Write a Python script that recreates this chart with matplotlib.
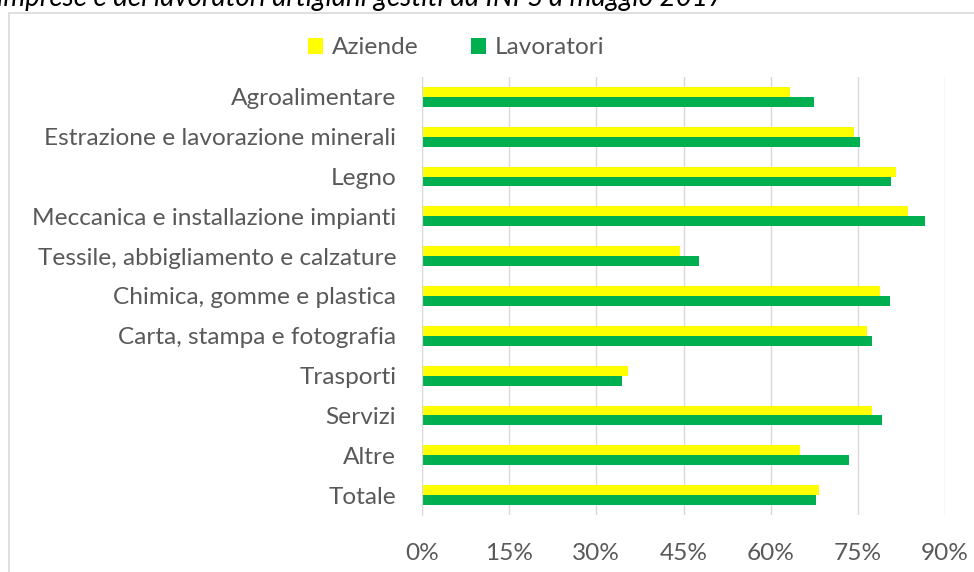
import matplotlib
matplotlib.use("Agg")
import matplotlib.pyplot as plt
from matplotlib.patches import Rectangle, Patch
from matplotlib.ticker import PercentFormatter

categories = ["Agroalimentare", "Estrazione e lavorazione minerali", "Legno",
              "Meccanica e installazione impianti",
              "Tessile, abbigliamento e calzature",
              "Chimica, gomme e plastica", "Carta, stampa e fotografia",
              "Trasporti", "Servizi", "Altre", "Totale"]
aziende = [63.3, 74.3, 81.6, 83.7, 44.4, 78.8, 76.6, 35.5, 77.4, 65.0, 68.3]
lavoratori = [67.5, 75.3, 80.7, 86.5, 47.7, 80.5, 77.4, 34.4, 79.1, 73.5, 67.8]
xticks = [0, 15, 30, 45, 60, 75, 90]
title = "imprese e dei lavoratori artigiani gestiti da INPS a maggio 2017"

YELLOW = "#ffff00"
GREEN = "#00b050"
GRID = "#d9d9d9"
TXT = "#595959"
FONT = "Lato"
FS = 17.6

W, H = 974, 572
fig = plt.figure(figsize=(W / 100, H / 100), dpi=100)

# plot area in pixels: x 422..945 (0..90%), y 77..515
ax = fig.add_axes([422 / W, 1 - 515 / H, (945 - 422) / W, (515 - 77) / H])

y = list(range(len(categories)))
h = 0.25
ax.barh([i - h / 2 for i in y], aziende, height=h, color=YELLOW,
        label="Aziende", zorder=3)
ax.barh([i + h / 2 for i in y], lavoratori, height=h, color=GREEN,
        label="Lavoratori", zorder=3)

ax.set_xlim(0, 90)
ax.set_ylim(len(categories) - 0.5, -0.5)
ax.set_xticks(xticks)
ax.xaxis.set_major_formatter(PercentFormatter(decimals=0))
ax.set_yticks(y, categories)
ax.grid(axis="x", color=GRID, linewidth=1, zorder=0)
for s in ("top", "right", "bottom"):
    ax.spines[s].set_visible(False)
ax.spines["left"].set_color(GRID)
ax.spines["left"].set_zorder(4)
ax.tick_params(length=0, labelcolor=TXT, labelsize=FS)
ax.tick_params(axis="y", pad=18.5)
ax.tick_params(axis="x", pad=20)
for lab in ax.get_xticklabels() + ax.get_yticklabels():
    lab.set_fontfamily(FONT)

ax.legend(handles=[Patch(facecolor=YELLOW, label="Aziende"),
                   Patch(facecolor=GREEN, label="Lavoratori")],
          loc="center", bbox_to_anchor=(456 / W, 1 - 48 / H),
          bbox_transform=fig.transFigure, ncol=2, frameon=False,
          prop={"family": FONT, "size": FS}, labelcolor=TXT,
          handlelength=0.62, handleheight=0.62, handletextpad=0.35,
          columnspacing=2.15)

# chart frame
fig.patches.append(Rectangle((9 / W, -0.1), 1.1, 1 - 13 / H + 0.1,
                             transform=fig.transFigure, fill=False,
                             edgecolor=GRID, linewidth=1.2))

fig.text(-3 / W, 1 - 6 / H, title, fontsize=20, style="italic",
         family=FONT, va="baseline", ha="left", color="black")

fig.savefig("out.png", dpi=100)
